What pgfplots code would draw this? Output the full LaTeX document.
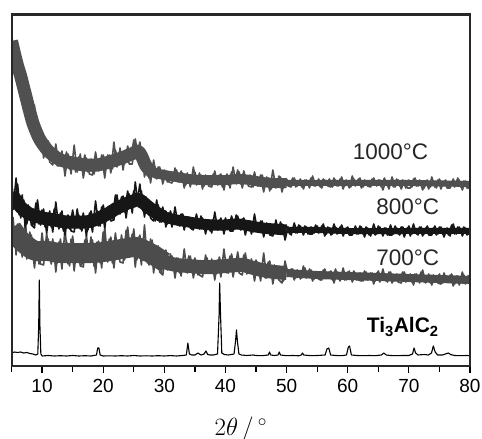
\documentclass[border=0pt]{standalone}
\usepackage{pgfplots}
\pgfplotsset{compat=1.18}
\usepackage{fontspec}
\setmainfont{Liberation Sans}
\definecolor{gA}{RGB}{80,80,80}
\definecolor{gB}{RGB}{22,22,22}
\definecolor{gC}{RGB}{76,76,76}
\definecolor{frm}{RGB}{40,40,40}
\pgfplotstableread{
x y
5 325
5.5 312
6 300
6.5 290
7 278
7.5 266
8 254
8.5 243
9 235
9.5 228
10 223
11 215
12 210
13 206
15 203
17 201
19 201
21 204
23 208
25 213
25.5 215
26 213
26.5 207
27 200
28 194
30 191
32 189
34 187
36 186
40 186
42 187
44 186
46 184
48 183
50 183
60 183
70 183
80 182
}\coreA
\pgfplotstableread{
x y
5 172
5.5 168
6 163
6.5 159
7 156
8 152
9 150
10 148
12 146
14 144
17 144
18 145
19 147
20 150
21 153
22 157
23 160
24 163
25 165
25.5 167
26 166
27 161
28 156
29 152
30 149
32 146
34 144
36 142
38 141
40 141
42 142
44 140
46 138
48 137
50 136
55 136
60 135
70 135
80 135
}\coreB
\pgfplotstableread{
x y
5 138
6 129
7 123
8 118
9 115
11 115
13 113
18 113
20 114
22 116
24 118
25 119
26 118
27 115
28 112
29 108
30 104
32 101
34 100
36 99
38 99
40 100
42 101
43 101
44 99
46 96
48 94
50 93
55 91
60 90
65 89
70 88
75 87
80 86
}\coreC
\begin{document}
\begin{tikzpicture}
\useasboundingbox (-11.5pt,-73pt) rectangle (470.5pt,366pt);
\begin{axis}[
  name=ax,
  at={(0,0)}, anchor=south west,
  width=458.5pt, height=352pt, scale only axis,
  xmin=5, xmax=80, ymin=0, ymax=352,
  xtick={10,20,...,80}, minor xtick={5,15,...,75},
  ytick=\empty,
  tick align=outside, major tick length=7pt, minor tick length=6pt,
  xtick pos=bottom,
  tick style={black, line width=1.2pt},
  axis line style={line width=1.6pt, color=frm},
  ticklabel style={font=\fontsize{19}{20}\selectfont},
  xticklabel style={yshift=-3pt},
  /pgf/number format/assume math mode=true,
  xlabel={$2\theta\,/\,{}^\circ$},
  xlabel style={at={(axis description cs:0.5,0)}, anchor=center, yshift=-63pt, font=\fontsize{25}{27}\selectfont},
  every axis plot/.append style={line join=round},
]
% ---------- 700 C ----------
\addplot[gC, line width=20pt, smooth, restrict x to domain=5:30.5] table {\coreC};
\addplot[gC, line width=14pt, smooth, restrict x to domain=29:50.5] table {\coreC};
\addplot[gC, line width=8pt, smooth, restrict x to domain=49:80] table {\coreC};
\addplot[gC, line width=1.6pt] coordinates {
(5.0,155)(5.5,124)(6.0,142)(6.5,114)(7.0,131)(7.5,107)(8.0,134)(8.5,107)(9.0,125)(9.5,102)
(10.0,133)(10.5,107)(11.0,127)(11.5,102)(12.0,123)(12.5,103)(13.0,127)(13.5,105)(14.0,125)(14.5,100)
(15.0,130)(15.5,104)(16.0,121)(16.5,101)(17.0,126)(17.5,106)(18.0,129)(18.5,100)(19.0,124)(19.5,103)
(20.0,134)(20.5,107)(21.0,127)(21.5,103)(22.0,133)(22.5,107)(23.0,131)(23.5,106)(24.0,139)(24.5,111)
(25.0,137)(25.5,106)(26.0,131)(26.5,106)(27.0,125)(27.5,101)(28.0,126)(28.5,102)(29.0,120)(29.5,93)
(30.0,110)(30.5,96)(31.0,112)(31.5,97)(32.0,108)(32.5,93)(33.0,106)(33.5,94)(34.0,110)(34.5,96)
(35.0,108)(35.5,91)(36.0,104)(36.5,93)(37.0,108)(37.5,93)(38.0,105)(38.5,92)(39.0,109)(39.5,95)
(40.0,107)(40.5,93)(41.0,112)(41.5,95)(42.0,114)(42.5,95)(43.0,111)(43.5,92)(44.0,105)(44.5,93)
(45.0,106)(45.5,90)(46.0,102)(46.5,88)(47.0,104)(47.5,90)(48.0,101)(48.5,88)(49.0,98)(49.5,85)
(50.0,98)(50.5,90)(51.0,97)(51.5,88)(52.0,95)(52.5,88)(53.0,98)(53.5,89)(54.0,96)(54.5,87)
(55.0,94)(55.5,86)(56.0,96)(56.5,88)(57.0,94)(57.5,86)(58.0,97)(58.5,87)(59.0,93)(59.5,86)
(60.0,94)(60.5,87)(61.0,95)(61.5,86)(62.0,93)(62.5,85)(63.0,94)(63.5,87)(64.0,93)(64.5,85)
(65.0,95)(65.5,86)(66.0,92)(66.5,84)(67.0,94)(67.5,85)(68.0,92)(68.5,86)(69.0,94)(69.5,84)
(70.0,91)(70.5,84)(71.0,92)(71.5,85)(72.0,94)(72.5,84)(73.0,90)(73.5,83)(74.0,91)(74.5,84)
(75.0,92)(75.5,83)(76.0,90)(76.5,84)(77.0,92)(77.5,82)(78.0,90)(78.5,83)(79.0,91)(79.5,83)(80.0,90)};
\addplot[gC, line width=1.6pt] coordinates {
(5.25,149)(5.75,111)(6.25,139)(6.75,109)(7.25,147)(7.75,108)(8.25,131)(8.75,98)(9.25,124)(9.75,102)
(10.25,101)(10.75,133)(11.25,106)(11.75,127)(12.25,94)(12.75,124)(13.25,97)(13.75,138)(14.25,102)(14.75,127)
(15.25,95)(15.75,122)(16.25,100)(16.75,99)(17.25,131)(17.75,104)(18.25,126)(18.75,93)(19.25,125)(19.75,98)
(20.25,139)(20.75,104)(21.25,129)(21.75,98)(22.25,125)(22.75,104)(23.25,103)(23.75,136)(24.25,109)(24.75,132)
(25.25,99)(25.75,129)(26.25,101)(26.75,141)(27.25,103)(27.75,127)(28.25,93)(28.75,118)(29.25,94)(29.75,91)
(30.25,116)(30.75,97)(31.25,110)(31.75,88)(32.25,108)(32.75,90)(33.25,117)(33.75,93)(34.25,110)(34.75,88)
(35.25,105)(35.75,91)(36.25,89)(36.75,111)(37.25,93)(37.75,107)(38.25,86)(38.75,106)(39.25,89)(39.75,117)
(40.25,93)(40.75,110)(41.25,89)(41.75,107)(42.25,93)(42.75,91)(43.25,113)(43.75,94)(44.25,107)(44.75,85)
(45.25,104)(45.75,85)(46.25,113)(46.75,88)(47.25,105)(47.75,82)(48.25,100)(48.75,86)(49.25,83)(49.75,105)
(50.25,90)(50.75,97)(51.25,86)(51.75,96)(52.25,87)(52.75,100)(53.25,88)(53.75,97)(54.25,85)(54.75,94)
(55.25,87)(55.75,86)(56.25,97)(56.75,88)(57.25,95)(57.75,83)(58.25,94)(58.75,85)(59.25,98)(59.75,86)
(60.25,95)(60.75,84)(61.25,93)(61.75,86)(62.25,85)(62.75,95)(63.25,86)(63.75,93)(64.25,82)(64.75,93)
(65.25,84)(65.75,97)(66.25,85)(66.75,94)(67.25,83)(67.75,91)(68.25,84)(68.75,83)(69.25,94)(69.75,85)
(70.25,92)(70.75,81)(71.25,92)(71.75,83)(72.25,96)(72.75,83)(73.25,92)(73.75,81)(74.25,90)(74.75,83)
(75.25,82)(75.75,93)(76.25,84)(76.75,91)(77.25,80)(77.75,90)(78.25,81)(78.75,94)(79.25,82)(79.75,91)};
% ---------- 800 C ----------
\addplot[gB, line width=13pt, smooth, restrict x to domain=5:30.5] table {\coreB};
\addplot[gB, line width=11pt, smooth, restrict x to domain=29:50.5] table {\coreB};
\addplot[gB, line width=6pt, smooth, restrict x to domain=49:80] table {\coreB};
\addplot[gB, line width=1.6pt] coordinates {
(5.0,184)(5.5,160)(6.0,182)(6.5,148)(7.0,166)(7.5,142)(8.0,159)(8.5,141)(9.0,163)(9.5,142)
(10.0,156)(10.5,139)(11.0,153)(11.5,139)(12.0,157)(12.5,141)(13.0,153)(13.5,135)(14.0,149)(14.5,137)
(15.0,156)(15.5,138)(16.0,151)(16.5,135)(17.0,149)(17.5,136)(18.0,155)(18.5,141)(19.0,155)(19.5,140)
(20.0,161)(20.5,145)(21.0,160)(21.5,147)(22.0,171)(22.5,153)(23.0,169)(23.5,154)(24.0,175)(24.5,158)
(25.0,175)(25.5,162)(26.0,182)(26.5,155)(27.0,169)(27.5,151)(28.0,162)(28.5,145)(29.0,161)(29.5,145)
(30.0,154)(30.5,142)(31.0,155)(31.5,143)(32.0,150)(32.5,140)(33.0,152)(33.5,141)(34.0,149)(34.5,137)
(35.0,147)(35.5,138)(36.0,150)(36.5,138)(37.0,146)(37.5,135)(38.0,147)(38.5,137)(39.0,146)(39.5,136)
(40.0,148)(40.5,137)(41.0,150)(41.5,137)(42.0,150)(42.5,136)(43.0,148)(43.5,137)(44.0,145)(44.5,134)
(45.0,143)(45.5,134)(46.0,145)(46.5,133)(47.0,142)(47.5,131)(48.0,141)(48.5,132)(49.0,144)(49.5,132)
(50.0,140)(50.5,132)(51.0,138)(51.5,133)(52.0,141)(52.5,134)(53.0,140)(53.5,132)(54.0,139)(54.5,133)
(55.0,140)(55.5,134)(56.0,142)(56.5,132)(57.0,138)(57.5,132)(58.0,139)(58.5,133)(59.0,141)(59.5,133)
(60.0,139)(60.5,131)(61.0,137)(61.5,132)(62.0,140)(62.5,132)(63.0,139)(63.5,131)(64.0,137)(64.5,131)
(65.0,140)(65.5,133)(66.0,138)(66.5,131)(67.0,141)(67.5,132)(68.0,138)(68.5,131)(69.0,139)(69.5,133)
(70.0,140)(70.5,132)(71.0,137)(71.5,131)(72.0,139)(72.5,132)(73.0,140)(73.5,133)(74.0,138)(74.5,131)
(75.0,139)(75.5,132)(76.0,137)(76.5,131)(77.0,141)(77.5,132)(78.0,139)(78.5,133)(79.0,139)(79.5,131)(80.0,138)};
\addplot[gB, line width=1.6pt] coordinates {
(5.25,156)(5.75,188)(6.25,151)(6.75,171)(7.25,139)(7.75,161)(8.25,141)(8.75,138)(9.25,166)(9.75,141)
(10.25,157)(10.75,133)(11.25,155)(11.75,134)(12.25,164)(12.75,137)(13.25,155)(13.75,131)(14.25,151)(14.75,135)
(15.25,134)(15.75,157)(16.25,137)(16.75,153)(17.25,130)(17.75,153)(18.25,134)(18.75,165)(19.25,140)(19.75,159)
(20.25,138)(20.75,159)(21.25,145)(21.75,146)(22.25,171)(22.75,152)(23.25,170)(23.75,148)(24.25,172)(24.75,153)
(25.25,184)(25.75,159)(26.25,175)(26.75,149)(27.25,167)(27.75,148)(28.25,145)(28.75,166)(29.25,144)(29.75,159)
(30.25,139)(30.75,153)(31.25,139)(31.75,159)(32.25,141)(32.75,152)(33.25,136)(33.75,149)(34.25,138)(34.75,136)
(35.25,152)(35.75,137)(36.25,148)(36.75,132)(37.25,146)(37.75,133)(38.25,154)(38.75,136)(39.25,148)(39.75,132)
(40.25,146)(40.75,135)(41.25,135)(41.75,151)(42.25,137)(42.75,147)(43.25,131)(43.75,145)(44.25,132)(44.75,152)
(45.25,134)(45.75,145)(46.25,129)(46.75,143)(47.25,131)(47.75,130)(48.25,146)(48.75,132)(49.25,142)(49.75,126)
(50.25,139)(50.75,131)(51.25,143)(51.75,133)(52.25,140)(52.75,131)(53.25,139)(53.75,132)(54.25,132)(54.75,141)
(55.25,133)(55.75,140)(56.25,130)(56.75,139)(57.25,131)(57.75,142)(58.25,132)(58.75,139)(59.25,130)(59.75,138)
(60.25,131)(60.75,131)(61.25,140)(61.75,132)(62.25,139)(62.75,129)(63.25,138)(63.75,130)(64.25,142)(64.75,132)
(65.25,139)(65.75,130)(66.25,138)(66.75,131)(67.25,131)(67.75,140)(68.25,132)(68.75,139)(69.25,129)(69.75,138)
(70.25,130)(70.75,142)(71.25,132)(71.75,139)(72.25,130)(72.75,138)(73.25,131)(73.75,131)(74.25,140)(74.75,132)
(75.25,139)(75.75,129)(76.25,138)(76.75,130)(77.25,142)(77.75,132)(78.25,139)(78.75,130)(79.25,138)(79.75,131)};
% ---------- 1000 C ----------
\addplot[gA, line width=13pt, smooth, restrict x to domain=5:28.5] table {\coreA};
\addplot[gA, line width=10pt, smooth, restrict x to domain=27:50.5] table {\coreA};
\addplot[gA, line width=6pt, smooth, restrict x to domain=48:80] table {\coreA};
\addplot[gA, line width=1.6pt] coordinates {
(5.0,334)(5.5,305)(6.0,305)(6.5,280)(7.0,291)(7.5,261)(8.0,261)(8.5,234)(9.0,239)(9.5,220)
(10.0,231)(10.5,214)(11.0,225)(11.5,205)(12.0,215)(12.5,200)(13.0,212)(13.5,201)(14.0,214)(14.5,197)
(15.0,207)(15.5,194)(16.0,209)(16.5,197)(17.0,211)(17.5,194)(18.0,207)(18.5,192)(19.0,206)(19.5,196)
(20.0,211)(20.5,199)(21.0,211)(21.5,197)(22.0,216)(22.5,202)(23.0,214)(23.5,202)(24.0,220)(24.5,206)
(25.0,226)(25.5,211)(26.0,224)(26.5,201)(27.0,207)(27.5,188)(28.0,198)(28.5,188)(29.0,199)(29.5,188)
(30.0,196)(30.5,184)(31.0,194)(31.5,185)(32.0,196)(32.5,184)(33.0,193)(33.5,181)(34.0,190)(34.5,182)
(35.0,194)(35.5,182)(36.0,191)(36.5,180)(37.0,190)(37.5,181)(38.0,192)(38.5,183)(39.0,191)(39.5,179)
(40.0,190)(40.5,181)(41.0,194)(41.5,183)(42.0,196)(42.5,182)(43.0,195)(43.5,183)(44.0,191)(44.5,179)
(45.0,189)(45.5,180)(46.0,191)(46.5,180)(47.0,188)(47.5,177)(48.0,187)(48.5,179)(49.0,189)(49.5,178)
(50.0,187)(50.5,180)(51.0,188)(51.5,179)(52.0,185)(52.5,179)(53.0,186)(53.5,181)(54.0,188)(54.5,180)
(55.0,185)(55.5,179)(56.0,187)(56.5,181)(57.0,187)(57.5,179)(58.0,186)(58.5,180)(59.0,189)(59.5,180)
(60.0,185)(60.5,179)(61.0,187)(61.5,181)(62.0,188)(62.5,179)(63.0,185)(63.5,180)(64.0,187)(64.5,181)
(65.0,186)(65.5,179)(66.0,188)(66.5,180)(67.0,185)(67.5,179)(68.0,187)(68.5,180)(69.0,186)(69.5,178)
(70.0,186)(70.5,179)(71.0,188)(71.5,180)(72.0,184)(72.5,178)(73.0,186)(73.5,179)(74.0,185)(74.5,178)
(75.0,187)(75.5,180)(76.0,186)(76.5,178)(77.0,184)(77.5,179)(78.0,188)(78.5,179)(79.0,185)(79.5,178)(80.0,184)};
\addplot[gA, line width=1.6pt] coordinates {
(5.25,306)(5.75,322)(6.25,287)(6.75,295)(7.25,254)(7.75,270)(8.25,234)(8.75,261)(9.25,222)(9.75,238)
(10.25,208)(10.75,224)(11.25,204)(11.75,201)(12.25,222)(12.75,200)(13.25,215)(13.75,190)(14.25,212)(14.75,192)
(15.25,221)(15.75,194)(16.25,212)(16.75,188)(17.25,208)(17.75,192)(18.25,191)(18.75,214)(19.25,195)(19.75,211)
(20.25,188)(20.75,211)(21.25,193)(21.75,224)(22.25,199)(22.75,218)(23.25,196)(23.75,216)(24.25,202)(24.75,202)
(25.25,227)(25.75,208)(26.25,219)(26.75,189)(27.25,206)(27.75,183)(28.25,206)(28.75,187)(29.25,199)(29.75,182)
(30.25,195)(30.75,184)(31.25,183)(31.75,198)(32.25,184)(32.75,195)(33.25,178)(33.75,193)(34.25,179)(34.75,199)
(35.25,181)(35.75,193)(36.25,177)(36.75,191)(37.25,180)(37.75,179)(38.25,195)(38.75,181)(39.25,192)(39.75,176)
(40.25,192)(40.75,178)(41.25,199)(41.75,182)(42.25,194)(42.75,178)(43.25,191)(43.75,180)(44.25,179)(44.75,194)
(45.25,180)(45.75,191)(46.25,174)(46.75,189)(47.25,175)(47.75,196)(48.25,178)(48.75,190)(49.25,174)(49.75,187)
(50.25,180)(50.75,179)(51.25,188)(51.75,180)(52.25,187)(52.75,177)(53.25,186)(53.75,178)(54.25,190)(54.75,180)
(55.25,187)(55.75,178)(56.25,186)(56.75,180)(57.25,179)(57.75,188)(58.25,180)(58.75,187)(59.25,177)(59.75,186)
(60.25,178)(60.75,190)(61.25,180)(61.75,187)(62.25,178)(62.75,186)(63.25,180)(63.75,179)(64.25,188)(64.75,180)
(65.25,186)(65.75,176)(66.25,185)(66.75,177)(67.25,189)(67.75,179)(68.25,186)(68.75,177)(69.25,185)(69.75,178)
(70.25,178)(70.75,187)(71.25,180)(71.75,186)(72.25,176)(72.75,185)(73.25,177)(73.75,189)(74.25,179)(74.75,186)
(75.25,177)(75.75,185)(76.25,178)(76.75,178)(77.25,187)(77.75,180)(78.25,186)(78.75,176)(79.25,185)(79.75,177)};
% ---------- Ti3AlC2 ----------
\addplot[black, line width=1.1pt] coordinates {
(5,13)(5.5,14)(6,13.5)(6.5,14)(7,13)(7.5,13.5)(8,12.5)(8.5,12)(9,11)(9.3,12)(9.45,40)(9.55,86)(9.65,40)(9.8,12)
(10,10)(11,10.5)(12,10)(13,10.3)(14,10)(15,10.5)(16,10)(17,10.3)(18,10)(18.9,11)(19.1,18)(19.3,18)(19.5,11)
(20,10)(21,10.2)(22,10)(23,10.3)(24,10)(25,10.5)(26,10)(27,10.2)(28,10)(29,10.3)(30,10)(31,10.4)(32,10)(33,10.5)
(33.6,11)(33.85,23)(34.1,12)(34.5,11)(35,11)(35.5,13)(36,11)(36.5,12)(36.8,15)(37.1,11.5)(37.5,11)(38,11)
(38.7,12)(38.95,50)(39.05,83)(39.2,50)(39.4,13)(39.8,11.5)(40.5,11)(41.4,12)(41.65,25)(41.8,36)(41.95,25)(42.2,12)
(42.6,11)(43.5,10.5)(44.5,11)(45,10.5)(46,10.3)(47,11)(47.2,14)(47.4,11)(48,10.5)(48.6,11)(48.8,14)(49,11)
(50,10.3)(51,10.5)(52,10.2)(52.4,11)(52.6,13)(52.8,11)(54,10.3)(55,10.5)(56.3,11)(56.6,17)(56.9,18)(57.2,11)
(58,10.5)(59,10.3)(59.8,11)(60.1,19)(60.3,20)(60.6,11)(61.5,10.5)(62.5,10.3)(63.5,10.5)(64.5,10.3)(65.5,11)
(65.9,13)(66.3,11)(67,10.5)(68,10.3)(69,10.5)(70,10.5)(70.6,12)(70.85,18)(71.1,13)(71.5,11)(72.5,11.5)
(73.2,11)(73.7,13)(74,20)(74.3,14)(74.7,11)(75.5,11)(76.2,12.5)(76.5,13)(76.8,11.5)(77.5,10.5)(78.5,10.3)(79.5,10.5)(80,10.3)};
\node[font=\fontsize{22.5}{24}\selectfont, text=black!85] at (axis cs:67.0,214) {1000°C};
\node[font=\fontsize{22.5}{24}\selectfont, text=black!85] at (axis cs:69.8,159) {800°C};
\node[font=\fontsize{22.5}{24}\selectfont, text=black!85] at (axis cs:69.8,108) {700°C};
\node[font=\fontsize{21}{23}\selectfont\bfseries] at (axis cs:69.0,39) {Ti\textsubscript{3}AlC\textsubscript{2}};
\end{axis}
\draw[frm, line width=2.2pt] ([xshift=0.6pt,yshift=-0.6pt]ax.north west) -- ([yshift=-0.6pt]ax.north east);
\draw[frm, line width=2.2pt] ([xshift=0.6pt]ax.south west) -- ([xshift=0.6pt]ax.north west);
\draw[frm, line width=1.8pt] (ax.south east) -- (ax.north east);
\end{tikzpicture}
\end{document}
